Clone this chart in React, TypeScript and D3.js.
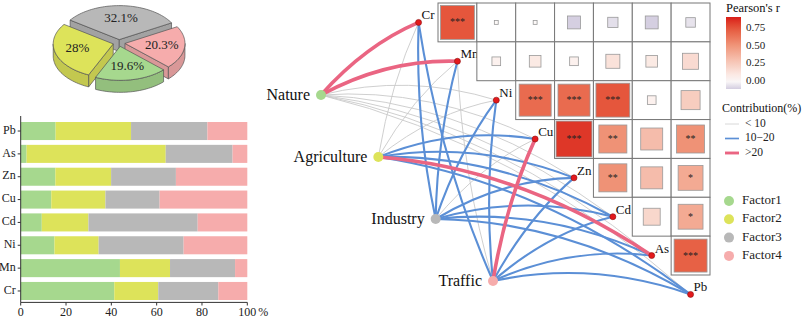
import { useMemo } from "react";
import * as d3 from "d3";

const W = 803;
const H = 320;
const SERIF = "Liberation Serif, Times New Roman, DejaVu Serif, serif";

// ---- data ----
const ELEMENTS = ["Cr", "Mn", "Ni", "Cu", "Zn", "Cd", "As", "Pb"];
const FACTORS = ["Factor1", "Factor2", "Factor3", "Factor4"];
const SOURCES = ["Nature", "Agriculture", "Industry", "Traffic"];
const FACTOR_COLORS = ["#a6d88e", "#dde35a", "#b8b8b8", "#f6acac"];

// factor share of each element (%), same order as ELEMENTS
const F1 = [41.3, 43.8, 14.9, 13.5, 15.3, 9.3, 2.6, 15.4];
const F2 = [19.4, 22.1, 19.5, 23.9, 24.6, 20.6, 61.4, 33.3];
const F3 = [26.5, 28.7, 37.5, 23.9, 28.6, 48.2, 29.5, 33.7];
const F4 = [12.8, 5.4, 28.1, 38.7, 31.5, 21.9, 6.5, 17.6];
const BAR_ORDER = ["Pb", "As", "Zn", "Cu", "Cd", "Ni", "Mn", "Cr"];
const X_TICKS = [0, 20, 40, 60, 80, 100];

// pie: overall contribution, clockwise from upper left
const PIE_VALUES = [32.1, 20.3, 19.6, 28];
const PIE_LABELS = ["32.1%", "20.3%", "19.6%", "28%"];
const PIE_FACTOR = [2, 3, 0, 1];

// Pearson r, upper triangle: row i = r(ELEMENTS[i], ELEMENTS[j]), j > i
const R_CR = [0.76, 0.01, 0.01, -0.11, -0.07, -0.11, -0.06];
const R_MN = [0.05, 0.09, 0.05, 0.13, 0.09, 0.17];
const R_NI = [0.68, 0.68, 0.76, 0.05, 0.24];
const R_CU = [0.85, 0.52, 0.32, 0.52];
const R_ZN = [0.52, 0.32, 0.41];
const R_CD = [0.19, 0.41];
const R_AS = [0.72];
const SIG_CR = ["***", "", "", "", "", "", ""];
const SIG_MN = ["", "", "", "", "", ""];
const SIG_NI = ["***", "***", "***", "", ""];
const SIG_CU = ["***", "**", "", "**"];
const SIG_ZN = ["**", "", "*"];
const SIG_CD = ["", "*"];
const SIG_AS = ["***"];
const R_ROWS = [R_CR, R_MN, R_NI, R_CU, R_ZN, R_CD, R_AS];
const SIG_ROWS = [SIG_CR, SIG_MN, SIG_NI, SIG_CU, SIG_ZN, SIG_CD, SIG_AS];
const LEGEND_TICKS = [0, 0.25, 0.5, 0.75];

// contribution class of each source -> element link: 0 "<10", 1 "10-20", 2 ">20"
const LINK_NATURE = [2, 2, 0, 0, 0, 0, 0, 0];
const LINK_AGRI = [0, 0, 0, 1, 1, 1, 2, 1];
const LINK_INDUSTRY = [1, 1, 1, 0, 1, 1, 1, 1];
const LINK_TRAFFIC = [1, 0, 1, 2, 1, 1, 1, 1];
const LINKS = [LINK_NATURE, LINK_AGRI, LINK_INDUSTRY, LINK_TRAFFIC];
const LINK_LABELS = ["< 10", "10\u221220", ">20"];
const LINK_COLORS = ["#c9c9c9", "#5b8fd6", "#ea6582"];
const LINK_WIDTHS = [0.9, 2.1, 3.6];

// ---- pie helpers ----
const PIE = { cx: 119, cy: 43, rx: 60, ry: 34, depth: 12, explode: 6 };

function ellipsePts(a1: number, a2: number, ox: number, oy: number, dy = 0) {
  const n = Math.max(2, Math.ceil(Math.abs(a2 - a1) / 0.04));
  return d3.range(n + 1).map((i) => {
    const a = a1 + ((a2 - a1) * i) / n;
    return [ox + PIE.rx * Math.sin(a), oy - PIE.ry * Math.cos(a) + dy] as [number, number];
  });
}
const toPath = (pts: [number, number][]) =>
  "M" + pts.map((p) => `${p[0].toFixed(2)},${p[1].toFixed(2)}`).join("L") + "Z";

function PieSlice({ a1, a2, color, label }: { a1: number; a2: number; color: string; label: string }) {
  const m = (a1 + a2) / 2;
  const ox = PIE.cx + PIE.explode * Math.sin(m);
  const oy = PIE.cy - PIE.explode * (PIE.ry / PIE.rx) * Math.cos(m);
  const side = d3.color(color)!.darker(0.35).formatHex();
  const D = PIE.depth;
  const faces: string[] = [];
  const norm = (a: number) => ((a % (2 * Math.PI)) + 2 * Math.PI) % (2 * Math.PI);
  // radial cut faces
  const radial = (a: number) => {
    const [px, py] = ellipsePts(a, a, ox, oy)[0];
    return toPath([[ox, oy], [px, py], [px, py + D], [ox, oy + D]]);
  };
  if (norm(a1) > Math.PI) faces.push(radial(a1));
  if (norm(a2) > 0 && norm(a2) < Math.PI) faces.push(radial(a2));
  // outer wall (front half only)
  const walls: string[] = [];
  [[Math.PI / 2, (3 * Math.PI) / 2], [(5 * Math.PI) / 2, (7 * Math.PI) / 2]].forEach(([lo, hi]) => {
    const b1 = Math.max(a1, lo);
    const b2 = Math.min(a2, hi);
    if (b2 > b1) {
      const top = ellipsePts(b1, b2, ox, oy);
      const bot = ellipsePts(b1, b2, ox, oy, D).reverse();
      walls.push(toPath([...top, ...bot]));
    }
  });
  const topFace = toPath([[ox, oy], ...ellipsePts(a1, a2, ox, oy)]);
  const lr = 0.62;
  return (
    <g stroke="#555" strokeWidth={0.7} strokeLinejoin="round">
      {faces.map((d, i) => (
        <path key={"f" + i} d={d} fill={side} />
      ))}
      {walls.map((d, i) => (
        <path key={"w" + i} d={d} fill={side} />
      ))}
      <path d={topFace} fill={color} />
      <text
        x={ox + PIE.rx * lr * Math.sin(m)}
        y={oy - PIE.ry * lr * Math.cos(m)}
        textAnchor="middle"
        dominantBaseline="middle"
        stroke="none"
        fill="#222"
        fontSize={13}>
        {label}
      </text>
    </g>
  );
}

export default function App() {
  const pieArcs = useMemo(() => {
    const start = (-55 * Math.PI) / 180;
    return d3
      .pie<number>()
      .sort(null)
      .startAngle(start)
      .endAngle(start + 2 * Math.PI)(PIE_VALUES);
  }, []);

  // bars
  const barRows = ELEMENTS.map((el, i) => ({ el, Factor1: F1[i], Factor2: F2[i], Factor3: F3[i], Factor4: F4[i] }));
  const stack = d3.stack<any>().keys(FACTORS)(barRows);
  const bx = d3.scaleLinear().domain([0, 100]).range([20.7, 247.3]);
  const by = d3.scaleBand().domain(BAR_ORDER).range([119.6, 302.4]).paddingInner(0.21).paddingOuter(0.105);

  // heatmap
  const cols = ELEMENTS.slice(1);
  const rows = ELEMENTS.slice(0, 7);
  const hx = d3.scaleBand().domain(cols).range([438, 710]);
  const hy = d3.scaleBand().domain(rows).range([3, 275]);
  const step = hx.bandwidth();
  const rColor = d3
    .scaleLinear<string>()
    .domain([-0.115, 0, 0.25, 0.5, 0.75, 0.92])
    .range(["#d3cde0", "#fdfbfa", "#f7cbbd", "#f0977b", "#e65a3e", "#d91e18"]);
  const legY = d3.scaleLinear().domain([-0.115, 0.92]).range([89, 17]);

  // network nodes
  const nodePos = (k: number) => [438 + (k - 0.5) * step, 3 + (k + 0.5) * step];
  const sx = d3.scalePoint().domain(SOURCES).range([321, 493]);
  const sy = d3.scalePoint().domain(SOURCES).range([95, 281]);

  const edges: { d: string; c: number }[] = [];
  SOURCES.forEach((s, si) => {
    ELEMENTS.forEach((el, k) => {
      const x0 = sx(s)!;
      const y0 = sy(s)!;
      const [x1, y1] = nodePos(k);
      const dx = x1 - x0;
      const dy = y1 - y0;
      const cx = (x0 + x1) / 2 + 0.06 * dy;
      const cy = (y0 + y1) / 2 - 0.14 * dx;
      edges.push({ d: `M${x0},${y0}Q${cx},${cy} ${x1},${y1}`, c: LINKS[si][k] });
    });
  });
  edges.sort((a, b) => a.c - b.c);

  const drawOrder = [0, 1, 3, 2]; // back slice first, front slice last

  return (
    <div>
      <style>{`body{margin:0} svg text{font-family:"Liberation Serif","Times New Roman","DejaVu Serif",serif}`}</style>
      <svg width={W} height={H} style={{ display: "block", background: "#fff", fontFamily: SERIF }}>
        <defs>
          <linearGradient id="rgrad" x1="0" x2="0" y1="1" y2="0">
            {d3.range(0, 1.0001, 0.1).map((t) => (
              <stop key={t} offset={t} stopColor={rColor(-0.115 + t * (0.92 + 0.115))} />
            ))}
          </linearGradient>
        </defs>

        {/* pie */}
        {drawOrder.map((i) => (
          <PieSlice
            key={i}
            a1={pieArcs[i].startAngle}
            a2={pieArcs[i].endAngle}
            color={FACTOR_COLORS[PIE_FACTOR[i]]}
            label={PIE_LABELS[i]}
          />
        ))}

        {/* stacked bars */}
        {stack.map((layer, li) =>
          layer.map((d, i) => (
            <rect
              key={li + "-" + i}
              x={bx(d[0])}
              y={by(barRows[i].el)}
              width={bx(d[1]) - bx(d[0])}
              height={by.bandwidth()}
              fill={FACTOR_COLORS[li]}
            />
          ))
        )}
        <line x1={bx(0)} x2={bx(0)} y1={116} y2={302.4} stroke="#333" />
        <line x1={bx(0)} x2={bx(100)} y1={302.4} y2={302.4} stroke="#333" />
        {BAR_ORDER.map((el) => (
          <g key={el}>
            <line x1={bx(0) - 3} x2={bx(0)} y1={by(el)! + by.bandwidth() / 2} y2={by(el)! + by.bandwidth() / 2} stroke="#333" />
            <text x={bx(0) - 5} y={by(el)! + by.bandwidth() / 2} textAnchor="end" dominantBaseline="middle" fontSize={12} fill="#222">
              {el}
            </text>
          </g>
        ))}
        {X_TICKS.map((t) => (
          <g key={t}>
            <line x1={bx(t)} x2={bx(t)} y1={302.4} y2={305.5} stroke="#333" />
            <text x={bx(t)} y={316} textAnchor="middle" fontSize={12} fill="#222">
              {t}
            </text>
          </g>
        ))}
        <text x={bx(100) + 11} y={316} fontSize={12} fill="#222">
          %
        </text>

        {/* network links */}
        {edges.map((e, i) => (
          <path key={i} d={e.d} fill="none" stroke={LINK_COLORS[e.c]} strokeWidth={LINK_WIDTHS[e.c]} strokeLinecap="round" />
        ))}
        {SOURCES.map((s, i) => (
          <g key={s}>
            <circle cx={sx(s)} cy={sy(s)} r={5} fill={FACTOR_COLORS[i]} />
            <text x={sx(s)! - 11} y={sy(s)! + 5} textAnchor="end" fontSize={16} fill="#111">
              {s}
            </text>
          </g>
        ))}
        {ELEMENTS.map((el, k) => {
          const [x, y] = nodePos(k);
          return (
            <g key={el}>
              <circle cx={x} cy={y} r={3} fill="#e4191c" stroke="#8a1010" strokeWidth={0.6} />
              <text x={x + 3} y={y - 3} fontSize={13} fill="#111">
                {el}
              </text>
            </g>
          );
        })}

        {/* correlation heatmap */}
        {rows.map((re, i) =>
          R_ROWS[i].map((r, j) => {
            const ce = cols[i + j];
            const x = hx(ce)!;
            const y = hy(re)!;
            const s = Math.min(step - 3, step * Math.sqrt(Math.abs(r)));
            return (
              <g key={re + ce}>
                <rect x={x} y={y} width={step} height={step} fill="#fff" stroke="#777" strokeWidth={1} />
                <rect
                  x={x + (step - s) / 2}
                  y={y + (step - s) / 2}
                  width={s}
                  height={s}
                  fill={rColor(r)}
                  stroke="#999"
                  strokeWidth={0.8}
                />
                {SIG_ROWS[i][j] && (
                  <text x={x + step / 2} y={y + step / 2 + 3} textAnchor="middle" fontSize={10} fill="#222">
                    {SIG_ROWS[i][j]}
                  </text>
                )}
              </g>
            );
          })
        )}

        {/* legends */}
        <text x={726} y={12} fontSize={12.5} fill="#111">
          Pearson's r
        </text>
        <rect x={726} y={17} width={15} height={72} fill="url(#rgrad)" />
        {LEGEND_TICKS.map((t) => (
          <text key={t} x={746} y={legY(t)} dominantBaseline="middle" fontSize={11} fill="#222">
            {t.toFixed(2)}
          </text>
        ))}
        <text x={722} y={112} fontSize={12} fill="#111">
          Contribution(%)
        </text>
        {LINK_LABELS.map((l, i) => (
          <g key={l}>
            <line x1={725} x2={739} y1={124 + i * 14.5} y2={124 + i * 14.5} stroke={LINK_COLORS[i]} strokeWidth={LINK_WIDTHS[i] * 0.8} />
            <text x={745} y={124 + i * 14.5} dominantBaseline="middle" fontSize={11.5} fill="#222">
              {l}
            </text>
          </g>
        ))}
        {FACTORS.map((f, i) => (
          <g key={f}>
            <circle cx={729} cy={201 + i * 18.3} r={5} fill={FACTOR_COLORS[i]} />
            <text x={742} y={201 + i * 18.3} dominantBaseline="middle" fontSize={13} fill="#222">
              {f}
            </text>
          </g>
        ))}
      </svg>
    </div>
  );
}
